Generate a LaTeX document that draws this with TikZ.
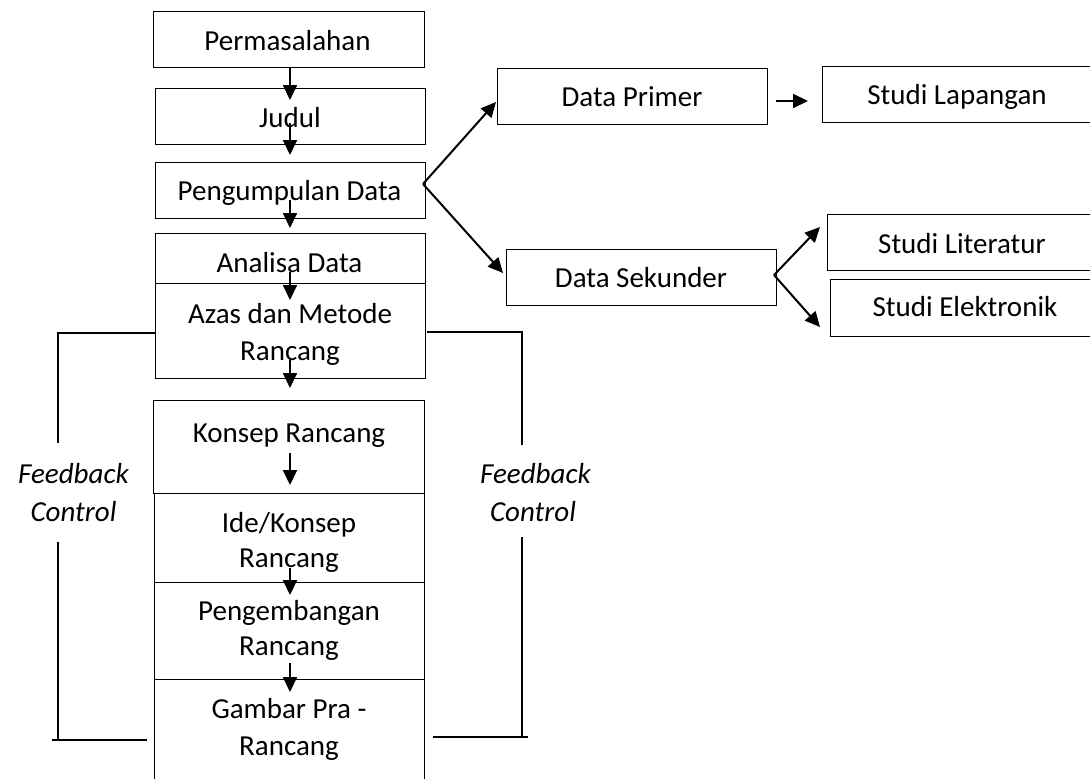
\documentclass[tikz,border=0pt]{standalone}
\usepackage{fontspec}
\setmainfont{Carlito}
\usetikzlibrary{arrows.meta,calc}
\begin{document}
\begin{tikzpicture}[x=1pt,y=-1pt,
  box/.style={draw=black,line width=1pt,inner sep=0pt,outer sep=0pt},
  txt/.style={font=\fontsize{29}{34}\selectfont,anchor=base,inner sep=0pt},
  ftxt/.style={font=\fontsize{29}{34}\selectfont\itshape,anchor=base,inner sep=0pt},
  arr/.style={-{Triangle[width=14pt,length=15pt]},line width=2pt},
  fb/.style={line width=2.2pt}]
\useasboundingbox (0,0) rectangle (1090,779);
\clip (0,0) rectangle (1090,779);
% left column boxes
\node[box,minimum width=271pt,minimum height=56pt] (perm) at (288.5,39) {};
\node[box,minimum width=270pt,minimum height=56pt] (judul) at (290,116) {};
\node[box,minimum width=270pt,minimum height=56pt] (peng) at (290,190) {};
\node[box,minimum width=270pt,minimum height=50pt] (anal) at (290,258) {};
\node[box,minimum width=270pt,minimum height=95pt] (azas) at (290,330.5) {};
\node[box,minimum width=271pt,minimum height=93pt] (konsep) at (288.5,446.5) {};
\node[box,minimum width=270pt,minimum height=89pt] (ide) at (289,537.5) {};
\node[box,minimum width=270pt,minimum height=97pt] (peng2) at (289,630.5) {};
\node[box,minimum width=270pt,minimum height=111pt] (gambar) at (289,734.5) {};
% right boxes
\node[box,minimum width=270pt,minimum height=56pt] (dprim) at (632,96) {};
\node[box,minimum width=270pt,minimum height=56pt] (dsek) at (641,277) {};
\node[box,minimum width=278pt,minimum height=56pt] (slap) at (961,94) {};
\node[box,minimum width=273pt,minimum height=56pt] (slit) at (963.5,242) {};
\node[box,minimum width=270pt,minimum height=57pt] (selek) at (965,307.5) {};
% texts
\node[txt] (tperm) at (287.5,50) {Permasalahan};
\node[txt] (tjudul) at (290,127) {Judul};
\node[txt] (tpeng) at (289.5,200) {Pengumpulan Data};
\node[txt] (tanal) at (289.5,272) {Analisa Data};
\node[txt] (tazasa) at (290,323) {Azas dan Metode};
\node[txt] (tazasb) at (290,360) {Rancang};
\node[txt] (tkonsep) at (289,442) {Konsep Rancang};
\node[txt] (tidea) at (289,532) {Ide/Konsep};
\node[txt] (tideb) at (289,567) {Rancang};
\node[txt] (tpenga) at (289,620) {Pengembangan};
\node[txt] (tpengb) at (289,655) {Rancang};
\node[txt] (tgama) at (289,718) {Gambar Pra -};
\node[txt] (tgamb) at (289,755) {Rancang};
\node[txt] (tdprim) at (632,106) {Data Primer};
\node[txt] (tdsek) at (641,287) {Data Sekunder};
\node[txt] (tslap) at (957,104) {Studi Lapangan};
\node[txt] (tslit) at (962,253) {Studi Literatur};
\node[txt] (tselek) at (965,316) {Studi Elektronik};
\node[ftxt] (fla) at (73.5,483) {Feedback};
\node[ftxt] (flb) at (73.5,521) {Control};
\node[ftxt] (fra) at (535.5,483) {Feedback};
\node[ftxt] (frb) at (533,521) {Control};
% vertical arrows
\draw[arr] ($(perm.south)+(1.5,0)$) -- ($(judul.north)+(0,12)$);
\draw[arr] ($(judul.south)+(0,-21)$) -- ($(peng.north)+(0,-7)$);
\draw[arr] ($(peng.south)+(0,-18)$) -- ($(anal.north)+(0,-5)$);
\draw[arr] ($(anal.south)+(0,-11)$) -- ($(azas.north)+(0,17)$);
\draw[arr] ($(azas.south)+(0,-18)$) -- ($(konsep.north)+(1.5,-12)$);
\draw[arr] ($(konsep.north)+(1.5,53)$) -- ($(ide.north)+(1,-8)$);
\draw[arr] ($(ide.south)+(1,-14)$) -- ($(peng2.north)+(1,13)$);
\draw[arr] ($(peng2.south)+(1,-16)$) -- ($(gambar.north)+(1,13)$);
% branch arrows
\draw[arr] ($(peng.east)+(-2,-6)$) -- ($(dprim.west)+(-1,6)$);
\draw[arr] ($(peng.east)+(-2,-6)$) -- ($(dsek.west)+(-3,-4)$);
\draw[arr] ($(dprim.east)+(9,5)$) -- ($(slap.west)+(-14,7)$);
\draw[arr] ($(dsek.east)+(-2,-2)$) -- ($(slit.west)+(-7,-15)$);
\draw[arr] ($(dsek.east)+(-2,-2)$) -- ($(selek.west)+(-10,19.5)$);
% feedback lines
\coordinate (L1) at (58,443);
\coordinate (L2) at (58,542);
\coordinate (L3) at (58,740);
\coordinate (L4) at (52,740);
\coordinate (L5) at (147,740);
\coordinate (R1) at (522,445);
\coordinate (R2) at (522,537);
\coordinate (R3) at (522,737);
\coordinate (R4) at (433,737);
\coordinate (R5) at (528,737);
\draw[fb] ($(azas.west)+(0,2.5)$) -| (L1);
\draw[fb] (L2) -- (L3);
\draw[fb] (L4) -- (L5);
\draw[fb] ($(azas.east)+(2,1.5)$) -| (R1);
\draw[fb] (R2) -- (R3);
\draw[fb] (R4) -- (R5);
\end{tikzpicture}
\end{document}
